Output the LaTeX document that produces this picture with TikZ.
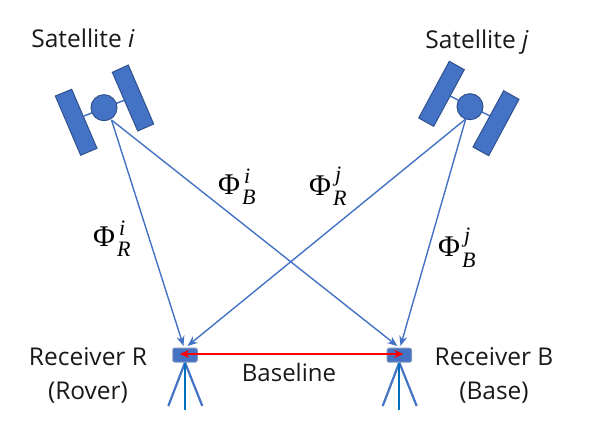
\documentclass[tikz,border=0pt]{standalone}
\usepackage{fontspec}
\setmainfont{Open Sans}
\newfontfamily\phifont{Liberation Serif}
\usetikzlibrary{arrows.meta}
\definecolor{fillb}{HTML}{4472C4}
\definecolor{edgeb}{HTML}{2F528F}
\definecolor{poleb}{HTML}{0070C0}
\newcommand{\phisym}[3]{{\phifont\fontsize{30}{32}\selectfont Φ\kern2pt\rlap{\kern2pt\raisebox{#3}{\fontsize{22}{23}\selectfont\itshape #1}}\raisebox{-10pt}{\fontsize{22}{23}\selectfont\itshape #2}}}
\tikzset{
  panel/.style={draw=edgeb,fill=fillb,line width=1pt},
  strut/.style={draw=fillb,line width=1.5pt},
  signal/.style={draw=fillb,line width=1.4pt,-{Stealth[length=10pt,width=8pt,fill=fillb]}},
  leg/.style={draw=fillb,line width=2.2pt},
  pole/.style={draw=poleb,line width=2.2pt},
  body/.style={circle,draw=edgeb,fill=fillb,line width=1pt,minimum size=26pt,inner sep=0pt},
  recv/.style={draw=edgeb!60,fill=fillb,line width=1pt,rounded corners=2pt,minimum width=24.5pt,minimum height=14pt,inner sep=0pt},
  lbl/.style={font=\fontsize{24.5}{34}\selectfont,align=center,text=black!90},
  lblb/.style={font=\fontsize{24}{34}\selectfont,align=center,text=black!90},
  phi/.style={anchor=base west,inner sep=0pt,text=black}
}
\begin{document}
\begin{tikzpicture}[x=1pt,y=-1pt]
\useasboundingbox (0,0) rectangle (596,427);
% satellite i
\draw[strut] (84,116) -- (125,100);
\draw[panel] (55.3,96) -- (71.7,89.3) -- (97,148.3) -- (80.7,155.3) -- cycle;
\draw[panel] (112.3,72.3) -- (128.3,65) -- (153.7,124) -- (137.7,131) -- cycle;
\node[body] (si) at (104,107.7) {};
% satellite j
\draw[strut] (450,96) -- (490,116);
\draw[panel] (449.3,61.3) -- (464.3,69.7) -- (433.7,126.3) -- (418.7,118) -- cycle;
\draw[panel] (503.7,90.7) -- (519,99.3) -- (488.7,155.7) -- (473,147) -- cycle;
\node[body] (sj) at (470,106.7) {};
% tripods
\coordinate (ra) at (185,362.5);
\coordinate (rl) at (168.3,406);
\coordinate (rr) at (202.3,406);
\coordinate (rc) at (185,410);
\coordinate (ba) at (399.3,362.5);
\coordinate (bl) at (382.7,406);
\coordinate (br) at (416.7,406);
\coordinate (bc) at (399.3,410);
\draw[leg] (ra) -- (rl);
\draw[leg] (ra) -- (rr);
\draw[pole] (ra) -- (rc);
\draw[leg] (ba) -- (bl);
\draw[leg] (ba) -- (br);
\draw[pole] (ba) -- (bc);
\node[recv] (rx) at (185,355) {};
\node[recv] (bx) at (399.3,355.2) {};
% signals
\coordinate (si0) at (111.5,120);
\coordinate (sj0) at (465.7,119);
\coordinate (rxa) at (183.5,346);
\coordinate (rxb) at (187.5,346);
\coordinate (bxa) at (397.3,346);
\coordinate (bxb) at (400.5,346);
\draw[signal] (si0) -- (rxa);
\draw[signal] (si0) -- (bxa);
\draw[signal] (sj0) -- (rxb);
\draw[signal] (sj0) -- (bxb);
% baseline
\coordinate (bs0) at (180,354);
\coordinate (bs1) at (403.3,354);
\draw[draw=red,line width=1.2pt,{Stealth[length=9pt,width=8pt]}-{Stealth[length=9pt,width=8pt]}] (bs0) -- (bs1);
% labels
\node[lbl] (ls) at (83,38) {Satellite \textit{i}};
\node[lbl] (lj) at (477,42) {Satellite \textit{j}};
\node[lbl] (lr) at (88,375) {Receiver R\\(Rover)};
\node[lbl] (lb) at (494,375) {Receiver B\\(Base)};
\node[lblb] (ll) at (289,372) {Baseline};
\node[phi] (p1) at (93,247) {\phisym{i}{R}{11pt}};
\node[phi] (p2) at (218,195) {\phisym{i}{B}{11pt}};
\node[phi] (p3) at (309,196) {\phisym{j}{R}{14.5pt}};
\node[phi] (p4) at (438,257) {\phisym{j}{B}{14.5pt}};
\end{tikzpicture}
\end{document}
